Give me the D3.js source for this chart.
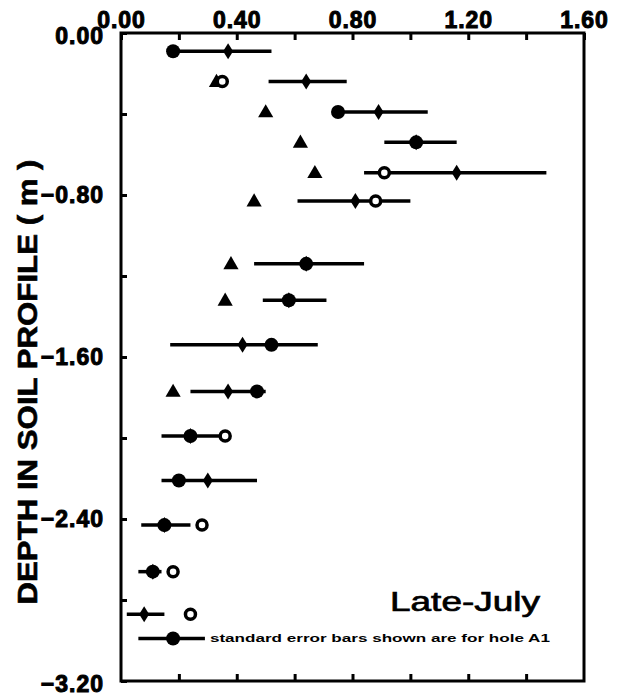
<!DOCTYPE html>
<html>
<head>
<meta charset="utf-8">
<script src="https://cdn.jsdelivr.net/npm/d3@7"></script>
<style>
  body { margin: 0; background: #fff; }
  svg { display: block; }
  .tick-label { font-family: "Liberation Sans", Arial, sans-serif; font-weight: bold; font-size: 23px; letter-spacing: 1px; fill: #000; stroke: #000; stroke-width: 1px; }
</style>
</head>
<body>
<svg id="chart" width="621" height="697"></svg>
<script>
// depth of each sampling level (m)
const depths = [-0.09, -0.24, -0.39, -0.54, -0.69, -0.83, -1.14, -1.32, -1.54, -1.77, -1.99, -2.21, -2.43, -2.66, -2.87]
// hole A1 values and standard error bar ends
const holeA1 = [0.37, 0.64, 0.89, 1.02, 1.16, 0.81, 0.64, 0.58, 0.42, 0.37, 0.24, 0.30, 0.15, 0.11, 0.08]
const errLow = [0.16, 0.51, 0.75, 0.91, 0.84, 0.61, 0.46, 0.49, 0.17, 0.24, 0.14, 0.14, 0.07, 0.06, 0.02]
const errHigh = [0.52, 0.78, 1.06, 1.16, 1.47, 1.00, 0.84, 0.71, 0.68, 0.50, 0.38, 0.47, 0.24, 0.14, 0.15]
// other holes
const filledHole = [0.18, null, 0.75, 1.02, null, null, 0.64, 0.58, 0.52, 0.47, 0.24, 0.20, 0.15, 0.11, null]
const triangleHole = [null, 0.33, 0.50, 0.62, 0.67, 0.46, 0.38, 0.36, null, 0.18, null, null, null, null, null]
const openHole = [null, 0.35, null, null, 0.91, 0.88, null, null, null, null, 0.36, null, 0.28, 0.18, 0.24]

const xTicks = [0, 0.2, 0.4, 0.6, 0.8, 1.0, 1.2, 1.4, 1.6]
const yTicks = [0, -0.4, -0.8, -1.2, -1.6, -2.0, -2.4, -2.8, -3.2]
const legendDepth = -2.99
const legendLow = 0.06, legendHigh = 0.29, legendValue = 0.18

const svg = d3.select("#chart")
const x = d3.scaleLinear().domain([0, 1.6]).range([121, 584])
const y = d3.scaleLinear().domain([0, -3.2]).range([33, 681])
const fmt = d3.format(".2f")
const isMajor = (v, step) => Math.abs(Math.round(v / step) * step - v) < 1e-6

// frame
svg.append("rect")
    .attr("x", x(0)).attr("y", y(0))
    .attr("width", x(1.6) - x(0)).attr("height", y(-3.2) - y(0))
    .attr("fill", "none").attr("stroke", "#000").attr("stroke-width", 3)

// top axis with labels
const topAxis = svg.append("g")
    .attr("transform", `translate(0,${y(0)})`)
    .call(d3.axisTop(x).tickValues(xTicks).tickSizeInner(-7).tickSizeOuter(0).tickPadding(5)
        .tickFormat(d => isMajor(d, 0.4) ? fmt(d) : ""))
topAxis.select(".domain").remove()
topAxis.selectAll("line").attr("stroke-width", 3)
topAxis.selectAll("text").attr("class", "tick-label").attr("font-size", null).attr("font-family", null)

// bottom axis, ticks only
const bottomAxis = svg.append("g")
    .attr("transform", `translate(0,${y(-3.2)})`)
    .call(d3.axisBottom(x).tickValues(xTicks.slice(1, -1)).tickSizeInner(-7).tickSizeOuter(0).tickFormat(""))
bottomAxis.select(".domain").remove()
bottomAxis.selectAll("line").attr("stroke-width", 3)

// left axis with labels
const leftAxis = svg.append("g")
    .attr("transform", `translate(${x(0)},0)`)
    .call(d3.axisLeft(y).tickValues(yTicks).tickSizeInner(-6).tickSizeOuter(0).tickPadding(17)
        .tickFormat(d => isMajor(d, 0.8) ? fmt(d) : ""))
leftAxis.select(".domain").remove()
leftAxis.selectAll("line").attr("stroke-width", 3)
leftAxis.selectAll("text").attr("class", "tick-label").attr("font-size", null).attr("font-family", null)
leftAxis.selectAll("text").filter(d => d === -3.2).attr("dy", "0.45em")
leftAxis.selectAll("text").filter(d => d === 0).attr("dy", "0.45em")

// y axis title
svg.append("text")
    .attr("transform", `translate(37,382) rotate(-90)`)
    .attr("text-anchor", "middle")
    .attr("font-family", "Liberation Sans, Arial, sans-serif")
    .attr("font-weight", "bold")
    .attr("font-size", 27)
    .attr("stroke", "#000").attr("stroke-width", 0.6)
    .attr("textLength", 445)
    .attr("lengthAdjust", "spacingAndGlyphs")
    .text("DEPTH IN SOIL PROFILE ( m )")

const rows = depths.map((d, i) => ({
    depth: d, a1: holeA1[i], lo: errLow[i], hi: errHigh[i],
    filled: filledHole[i], tri: triangleHole[i], open: openHole[i]
}))

// error bars
svg.selectAll(".err-bar")
    .data(rows)
    .enter()
    .append("line")
    .attr("class", "err-bar")
    .attr("x1", d => x(d.lo)).attr("x2", d => x(d.hi))
    .attr("y1", d => y(d.depth)).attr("y2", d => y(d.depth))
    .attr("stroke", "#000").attr("stroke-width", 3.5)

// triangles
svg.selectAll(".tri")
    .data(rows.filter(d => d.tri !== null))
    .enter()
    .append("path")
    .attr("class", "tri")
    .attr("d", d3.symbol(d3.symbolTriangle, 100))
    .attr("transform", d => `translate(${x(d.tri)},${y(d.depth) + 1})`)
    .attr("fill", "#000")

// open circles
svg.selectAll(".open")
    .data(rows.filter(d => d.open !== null))
    .enter()
    .append("circle")
    .attr("class", "open")
    .attr("cx", d => x(d.open)).attr("cy", d => y(d.depth))
    .attr("r", 5)
    .attr("fill", "#fff").attr("stroke", "#000").attr("stroke-width", 3.5)

// filled circles
svg.selectAll(".filled")
    .data(rows.filter(d => d.filled !== null))
    .enter()
    .append("circle")
    .attr("class", "filled")
    .attr("cx", d => x(d.filled)).attr("cy", d => y(d.depth))
    .attr("r", 7)
    .attr("fill", "#000")

// hole A1 markers (thin diamonds on the bars)
svg.selectAll(".a1")
    .data(rows)
    .enter()
    .append("path")
    .attr("class", "a1")
    .attr("d", "M0,-8L5,0L0,8L-5,0Z")
    .attr("transform", d => `translate(${x(d.a1)},${y(d.depth)})`)
    .attr("fill", "#000")

// legend
const legend = svg.append("g")
legend.append("line")
    .attr("x1", x(legendLow)).attr("x2", x(legendHigh))
    .attr("y1", y(legendDepth)).attr("y2", y(legendDepth))
    .attr("stroke", "#000").attr("stroke-width", 3.5)
legend.append("circle")
    .attr("cx", x(legendValue)).attr("cy", y(legendDepth))
    .attr("r", 7).attr("fill", "#000")
legend.append("text")
    .attr("x", x(legendHigh) + 5).attr("y", y(legendDepth) + 4)
    .attr("font-family", "Liberation Sans, Arial, sans-serif")
    .attr("font-weight", "bold")
    .attr("font-size", 10)
    .attr("textLength", 340)
    .attr("lengthAdjust", "spacingAndGlyphs")
    .text("standard error bars shown are for hole A1")

// season label
svg.append("text")
    .attr("x", 540).attr("y", 611)
    .attr("text-anchor", "end")
    .attr("font-family", "Liberation Sans, Arial, sans-serif")
    .attr("font-size", 27)
    .attr("stroke", "#000").attr("stroke-width", 0.7)
    .attr("textLength", 150)
    .attr("lengthAdjust", "spacingAndGlyphs")
    .text("Late-July")
</script>
</body>
</html>
